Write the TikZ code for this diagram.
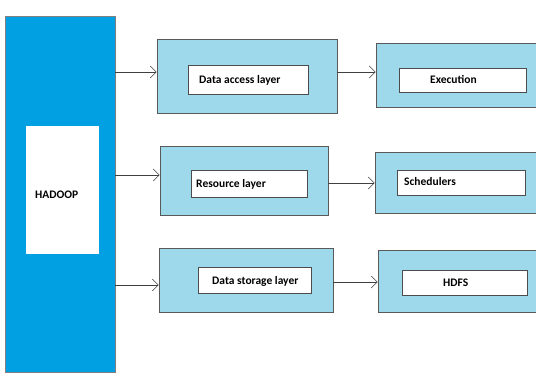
\documentclass[tikz,border=0pt]{standalone}
\usepackage{fontspec}
\setmainfont{Carlito}
\usetikzlibrary{arrows.meta}
\definecolor{hadoopblue}{RGB}{0,160,226}
\definecolor{layerblue}{RGB}{157,217,234}
\begin{document}
\begin{tikzpicture}[x=1pt,y=-1pt,
    outerbox/.style={draw=black!65,fill=layerblue,line width=0.8pt,inner sep=0pt},
    innerbox/.style={draw=black!70,fill=white,line width=0.8pt,inner sep=0pt},
    label/.style={anchor=west,inner sep=0pt,font=\bfseries\fontsize{11.5}{13}\selectfont},
    arr/.style={-{Straight Barb[length=6pt,width=12pt]},draw=black!75,line width=0.6pt}]
    \useasboundingbox (0,0) rectangle (536,374);

    \node[draw=black!50,fill=hadoopblue,minimum width=110pt,minimum height=356pt,inner sep=0pt] (hadoop) at (60,194) {};
    \node[fill=white,minimum width=73pt,minimum height=128pt,inner sep=0pt] (hadoopin) at (62.5,190) {};
    \node[label] (hadooptext) at (35,195) {HADOOP};

    \node[outerbox,minimum width=180pt,minimum height=74pt] (access) at (247,76) {};
    \node[innerbox,minimum width=120pt,minimum height=29pt] (accessin) at (248,79.5) {};
    \node[label] (accesstext) at (199,80) {Data access layer};

    \node[outerbox,minimum width=162pt,minimum height=64pt] (exec) at (457,75) {};
    \node[innerbox,minimum width=127pt,minimum height=24pt] (execin) at (462.5,80) {};
    \node[label] (exectext) at (430,80) {Execution};

    \node[outerbox,minimum width=168pt,minimum height=69pt] (resource) at (244,180.5) {};
    \node[innerbox,minimum width=116pt,minimum height=27pt] (resourcein) at (249,183.5) {};
    \node[label] (resourcetext) at (196,184) {Resource layer};

    \node[outerbox,minimum width=163pt,minimum height=61pt] (sched) at (456.5,182.5) {};
    \node[innerbox,minimum width=128pt,minimum height=25pt] (schedin) at (461,182.5) {};
    \node[label] (schedtext) at (404,182) {Schedulers};

    \node[outerbox,minimum width=174pt,minimum height=64pt] (storage) at (246,280) {};
    \node[innerbox,minimum width=113pt,minimum height=26pt] (storagein) at (254.5,280) {};
    \node[label] (storagetext) at (212,281) {Data storage layer};

    \node[outerbox,minimum width=160pt,minimum height=62pt] (hdfs) at (458,281) {};
    \node[innerbox,minimum width=125pt,minimum height=25pt] (hdfsin) at (464.5,282.5) {};
    \node[label] (hdfstext) at (443,283) {HDFS};

    \coordinate (in1) at ([yshift=4pt]access.west);
    \coordinate (in2) at ([yshift=5.5pt]resource.west);
    \coordinate (in3) at ([yshift=-5pt]storage.west);
    \coordinate (out1) at ([yshift=4pt]access.east);
    \coordinate (out2) at ([yshift=-2.5pt]resource.east);
    \coordinate (out3) at ([yshift=-2pt]storage.east);

    \draw[arr] (hadoop.east |- in1) -- (in1);
    \draw[arr] (hadoop.east |- in2) -- (in2);
    \draw[arr] (hadoop.east |- in3) -- (in3);
    \draw[arr] (out1) -- (out1 -| exec.west);
    \draw[arr] (out2) -- (out2 -| sched.west);
    \draw[arr] (out3) -- (out3 -| hdfs.west);
\end{tikzpicture}
\end{document}
